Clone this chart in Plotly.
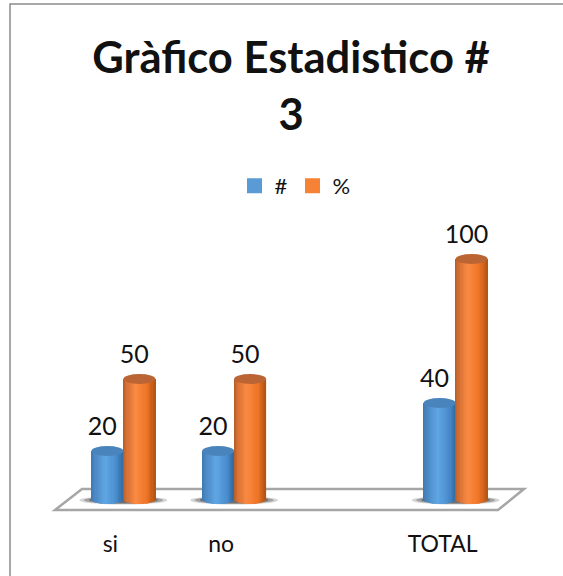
import math
import plotly.graph_objects as go

categories = ["si", "no", "", "TOTAL"]
count_values = [20, 20, None, 40]
percent_values = [50, 50, None, 100]
series_names = ["#", "%"]

W, H = 563, 576
CAT_L, CAT_R = 68, 511
L, R, T, B = 20, 550, 200, 520
Y0_PX = 499
PX_PER_UNIT = 2.4
X_PER_PX = 4 / (CAT_R - CAT_L)
Y_PER_PX = 1 / PX_PER_UNIT
BAR_W = 32 * X_PER_PX
ELL = 5 * Y_PER_PX
N = 28


def px_x(p):
    return (p - CAT_L) * X_PER_PX - 0.5


def px_y(p):
    return (Y0_PX - p) * Y_PER_PX


def mix(stops, t):
    for (a, ca), (b, cb) in zip(stops, stops[1:]):
        if t <= b:
            f = (t - a) / (b - a)
            c = [round(ca[i] + (cb[i] - ca[i]) * f) for i in range(3)]
            return f"rgb({c[0]},{c[1]},{c[2]})"
    c = stops[-1][1]
    return f"rgb({c[0]},{c[1]},{c[2]})"


BLUE = [(0, (62, 120, 172)), (0.12, (74, 135, 195)), (0.45, (96, 166, 228)), (0.8, (72, 140, 205)), (1, (50, 105, 160))]
ORANGE = [(0, (178, 92, 40)), (0.12, (214, 112, 52)), (0.4, (250, 138, 66)), (0.75, (238, 116, 38)), (1, (178, 84, 20))]

fig = go.Figure()
xs = [i for i, v in enumerate(count_values) if v is not None]

for s, (vals, stops, side, legend_col) in enumerate([(count_values, BLUE, -1, "#5b9bd5"), (percent_values, ORANGE, 0, "#f58235")]):
    shown = [v for v in vals if v is not None]
    for k in range(N):
        t = (k + 0.5) / N
        u = 2 * t - 1
        base = -ELL * math.sqrt(max(0, 1 - u * u))
        w = BAR_W / N
        fig.add_trace(go.Bar(
            x=xs,
            y=[v - base for v in shown],
            base=[base] * len(shown),
            width=w * 1.25 if k < N - 1 else w,
            offset=side * BAR_W + k * w,
            marker=dict(color=mix(stops, t), line=dict(width=0)),
            name=series_names[s],
            legendgroup=series_names[s],
            showlegend=False,
            hoverinfo="skip",
        ))
    # legend entry
    fig.add_trace(go.Bar(
        x=[None], y=[None], name=series_names[s], legendgroup=series_names[s],
        marker=dict(color=legend_col, line=dict(color=legend_col, width=3)),
        showlegend=True, hoverinfo="skip",
    ))
    # data labels
    fig.add_trace(go.Scatter(
        x=[x + (side + 0.5) * BAR_W - 5 * X_PER_PX for x in xs],
        y=[v + 22 * Y_PER_PX for v in shown],
        mode="text",
        text=[str(v) for v in shown],
        textposition="middle center",
        textfont=dict(family="Lato", size=25, color="#111111"),
        showlegend=False,
        hoverinfo="skip",
    ))

shapes = []
# floor
path = "M {} {} L {} {} L {} {} L {} {} Z".format(
    px_x(55), px_y(510), px_x(498), px_y(510), px_x(524), px_y(489), px_x(82), px_y(489))
shapes.append(dict(type="path", path=path, xref="x", yref="y", layer="below",
                   fillcolor="white", line=dict(color="#a6a6a6", width=2.5)))
# shadows
for x in xs:
    for grow, op in [(1.0, 0.2), (0.9, 0.3), (0.78, 0.4)]:
        half = 44 * X_PER_PX * grow
        shapes.append(dict(type="circle", xref="x", yref="y", layer="below",
                           x0=x - half, x1=x + half, y0=-5.5 * Y_PER_PX * grow, y1=3 * Y_PER_PX * grow,
                           fillcolor=f"rgba(40,40,40,{op})", line=dict(width=0)))
# cylinder tops
for vals, col, side in [(count_values, "#4a84bd", -1), (percent_values, "#bb6534", 0)]:
    for x, v in zip(xs, [v for v in vals if v is not None]):
        shapes.append(dict(type="circle", xref="x", yref="y", layer="above",
                           x0=x + side * BAR_W, x1=x + (side + 1) * BAR_W,
                           y0=v - ELL, y1=v + ELL,
                           fillcolor=col, line=dict(width=0)))
# outer frame
shapes.append(dict(type="path", xref="paper", yref="paper", layer="above",
                   path="M {} {} L {} {} L {} {}".format(
                       (10 - L) / (R - L), (B - 576) / (B - T),
                       (10 - L) / (R - L), (B - 4) / (B - T),
                       (563 - L) / (R - L), (B - 4) / (B - T)),
                   line=dict(color="#8c8c8c", width=1.5)))

fig.update_layout(
    width=W, height=H,
    margin=dict(l=L, r=W - R, t=T, b=H - B, pad=0, autoexpand=False),
    paper_bgcolor="white", plot_bgcolor="rgba(0,0,0,0)",
    barmode="overlay",
    shapes=shapes,
    showlegend=True,
    title=dict(text="Gràfico Estadistico #<br>3", x=291 / W, xanchor="center",
               y=1 - 73 / H, yanchor="top", xref="container",
               font=dict(family="Lato", size=43.5, color="#111111", weight="bold")),
    legend=dict(orientation="h", x=295 / W, xref="container", xanchor="center",
                y=1 - 186 / H, yref="container", yanchor="middle",
                font=dict(family="Lato", size=22, color="#111111"),
                bgcolor="rgba(0,0,0,0)", itemclick=False, itemdoubleclick=False),
    xaxis=dict(range=[px_x(L), px_x(R)], tickmode="array",
               tickvals=[i - 13 * X_PER_PX for i in range(len(categories))],
               ticktext=categories, showgrid=False, zeroline=False, showline=False,
               ticks="", ticklabelstandoff=8,
               tickfont=dict(family="Lato", size=23, color="#111111"), fixedrange=True),
    yaxis=dict(range=[px_y(B), px_y(T)], visible=False, fixedrange=True),
)

fig.write_html("out.html", config=dict(displayModeBar=False),
               post_script="document.body.style.margin='0';document.body.style.overflow='hidden';")
